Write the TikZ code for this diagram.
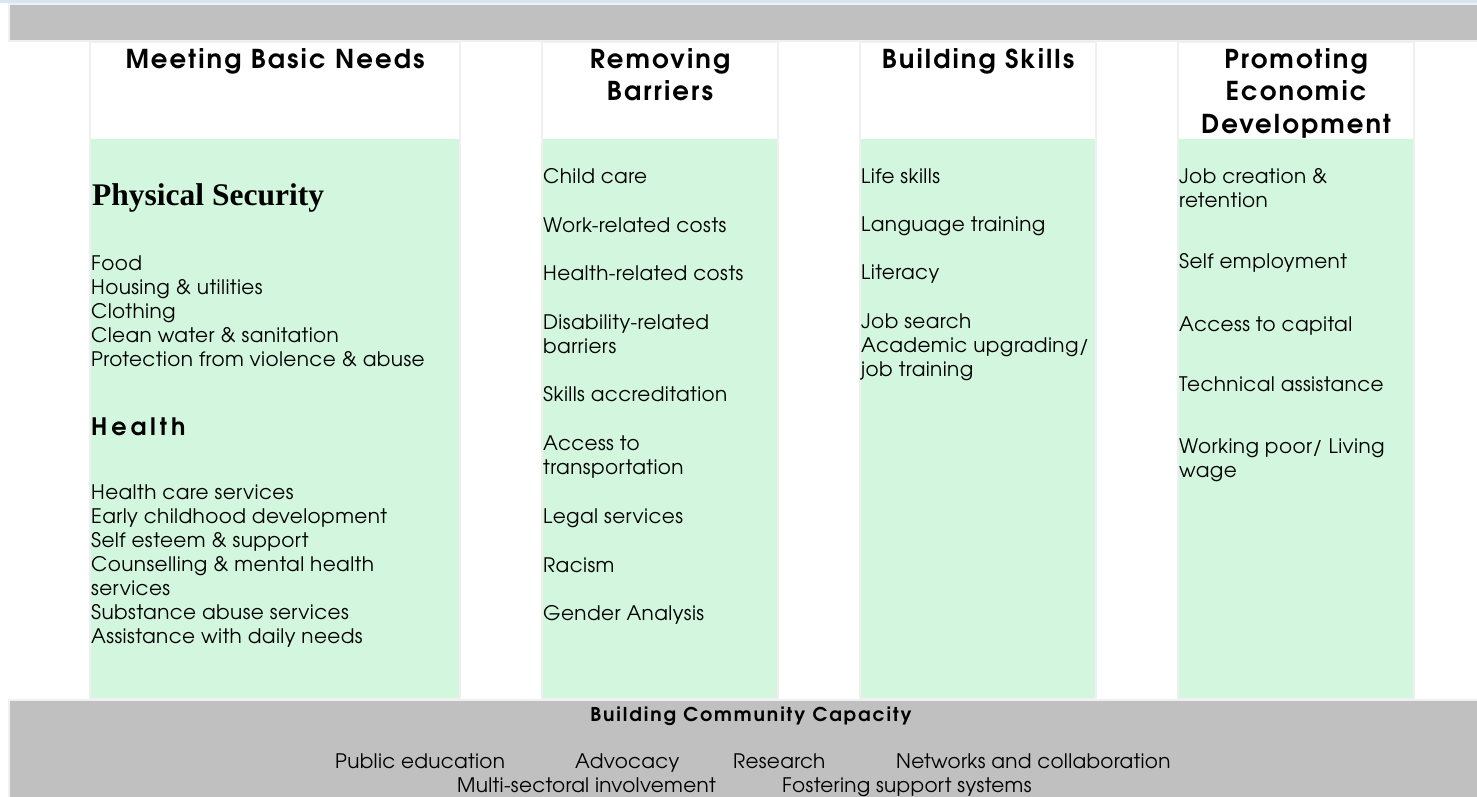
\documentclass[tikz,border=0pt]{standalone}
\usepackage{fontspec}
\setmainfont{texgyreadventor}[Extension=.otf, UprightFont=*-regular, BoldFont=*-bold]
\newfontfamily\serifb{Liberation Serif}
\definecolor{bandgray}{HTML}{C0C0C0}
\definecolor{edgegray}{HTML}{F0F0F0}
\definecolor{mint}{HTML}{D2F7DE}
\definecolor{topblue}{HTML}{D6E6F2}
\tikzset{
  band/.style={fill=bandgray, draw=edgegray, line width=2pt},
  colbox/.style={fill=white, draw=edgegray, line width=2pt},
  greenfill/.style={fill=mint},
  item/.style={anchor=base west, inner sep=0pt, align=left, font=\fontsize{20}{24}\selectfont\addfontfeature{LetterSpace=2}},
  head/.style={anchor=base, inner sep=0pt, align=center, font=\fontsize{26}{32.5}\selectfont\bfseries\addfontfeature{LetterSpace=8}},
  subhead/.style={anchor=base west, inner sep=0pt, font=\fontsize{24}{28}\selectfont\bfseries\addfontfeature{LetterSpace=16}},
  bottomtxt/.style={anchor=base west, inner sep=0pt, font=\fontsize{20}{23}\selectfont\addfontfeature{LetterSpace=1.5}},
}
\begin{document}
\begin{tikzpicture}[x=1pt,y=-1pt]
\useasboundingbox (0,0) rectangle (1477,796);
\fill[white] (0,0) rectangle (1477,796);
\fill[topblue] (0,0) rectangle (1477,2.5);
% top band
\draw[band] (9,3.5) rectangle (1479,41);
% columns
\foreach \l/\r in {90/460, 542/778, 860/1096, 1178/1414}{
  \draw[colbox] (\l,42) rectangle (\r,699);
  \fill[greenfill] (\l+1,139) rectangle (\r-1,698);
}
% bottom band
\draw[band] (9,700) rectangle (1479,798);

% headers (base = baseline of last line)
\node[head] (h1) at (275,68) {Meeting Basic Needs};
\node[head] (h2) at (660,100.5) {Removing\\Barriers};
\node[head] (h3) at (978,68) {Building Skills};
\node[head] (h4) at (1296,133) {Promoting\\Economic\\Development};

% column 1
\node[anchor=base west, inner sep=0pt, font=\serifb\fontsize{31.5}{36}\selectfont\bfseries] (ps) at (92,205) {Physical Security};
\node[item] (c1a) at (91,366) {Food\\Housing \& utilities\\Clothing\\Clean water \& sanitation\\Protection from violence \& abuse};
\node[subhead] (hh) at (91,435) {Health};
\node[item] (c1b) at (91,643) {Health care services\\Early childhood development\\Self esteem \& support\\Counselling \& mental health\\services\\Substance abuse services\\Assistance with daily needs};

% column 2
\node[item] (c2a) at (543,183) {Child care};
\node[item] (c2b) at (543,232) {Work-related costs};
\node[item] (c2c) at (543,280) {Health-related costs};
\node[item] (c2d) at (543,353) {Disability-related\\barriers};
\node[item] (c2e) at (543,401) {Skills accreditation};
\node[item] (c2f) at (543,474) {Access to\\transportation};
\node[item] (c2g) at (543,523) {Legal services};
\node[item] (c2h) at (543,572) {Racism};
\node[item] (c2i) at (543,620) {Gender Analysis};

% column 3
\node[item] (c3a) at (861,183) {Life skills};
\node[item] (c3b) at (861,231) {Language training};
\node[item] (c3c) at (861,279) {Literacy};
\node[item] (c3d) at (861,376) {Job search\\Academic upgrading/\\job training};

% column 4
\node[item] (c4a) at (1179,207) {Job creation \&\\retention};
\node[item] (c4b) at (1179,268) {Self employment};
\node[item] (c4c) at (1179,331) {Access to capital};
\node[item] (c4d) at (1179,391) {Technical assistance};
\node[item] (c4e) at (1179,477) {Working poor/ Living\\wage};

% bottom
\node[anchor=base, inner sep=0pt, font=\fontsize{19}{22}\selectfont\bfseries\addfontfeature{LetterSpace=10}] (bcc) at (751,721) {Building Community Capacity};
\node[bottomtxt] (b1) at (335,768) {Public education};
\node[bottomtxt] (b2) at (575,768) {Advocacy};
\node[bottomtxt] (b3) at (733,768) {Research};
\node[bottomtxt] (b4) at (896,768) {Networks and collaboration};
\node[bottomtxt] (b5) at (457,792) {Multi-sectoral involvement};
\node[bottomtxt] (b6) at (782,792) {Fostering support systems};
\end{tikzpicture}
\end{document}
